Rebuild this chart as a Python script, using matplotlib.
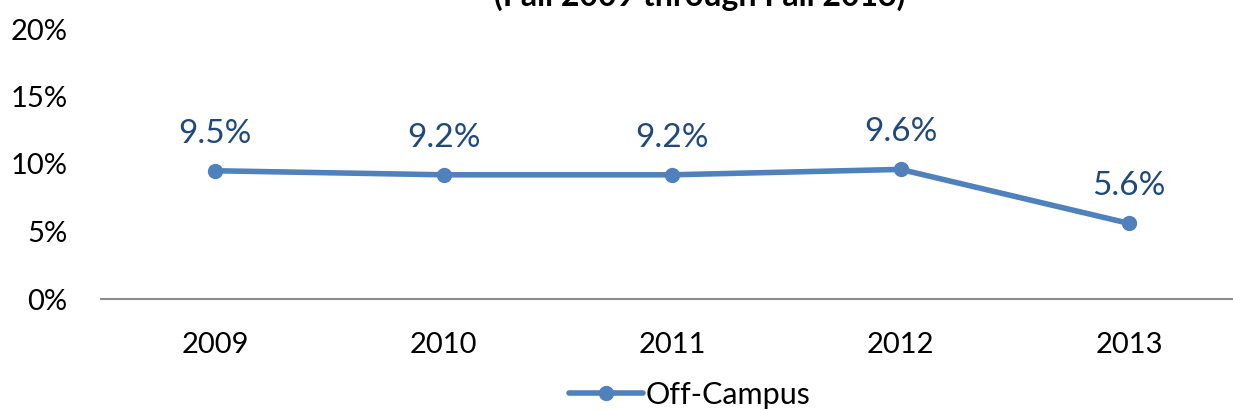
import matplotlib.pyplot as plt
from matplotlib.ticker import FuncFormatter

years = ['2009', '2010', '2011', '2012', '2013']
off_campus = [9.5, 9.2, 9.2, 9.6, 5.6]
yticks = [0, 5, 10, 15, 20]

line_col = '#4F81BD'
label_col = '#1F497D'
plt.rcParams['font.family'] = ['Lato', 'DejaVu Sans']

fig = plt.figure(figsize=(12.33, 4.11), dpi=100)
ax = fig.add_axes([101 / 1233, 112 / 411, 1 - 101 / 1233, 270 / 411])

x = range(len(years))
ax.plot(x, off_campus, color=line_col, lw=4, marker='o', ms=10,
        label='Off-Campus', solid_capstyle='round')
for i, v in zip(x, off_campus):
    ax.annotate(f'{v:.1f}%', (i, v), xytext=(0, 16), textcoords='offset points',
                ha='center', va='bottom', fontsize=24, color=label_col)

ax.set_xlim(-0.5, 4.455)
ax.set_ylim(0, 20)
ax.set_yticks(yticks)
ax.yaxis.set_major_formatter(FuncFormatter(lambda v, p: f'{v:.0f}%'))
ax.set_xticks(list(x))
ax.set_xticklabels(years)
ax.tick_params(length=0, labelsize=21, colors='black')
ax.tick_params(axis='x', pad=24)
ax.tick_params(axis='y', pad=24)
for s in ['top', 'right', 'left']:
    ax.spines[s].set_visible(False)
ax.spines['bottom'].set_color('#8C8C8C')
ax.spines['bottom'].set_linewidth(1.5)

# title sits mostly above the canvas, as in the source image
fig.text(700 / 1233, 1.0 - 6 / 411, '(Fall 2009 through Fall 2013)', ha='center',
         va='baseline', fontsize=23, fontweight='bold')

fig.legend(loc='center', bbox_to_anchor=(690 / 1233, 16 / 411), frameon=False,
           fontsize=22, handlelength=2.4, handletextpad=0.1)

fig.savefig('out.png', dpi=100)
